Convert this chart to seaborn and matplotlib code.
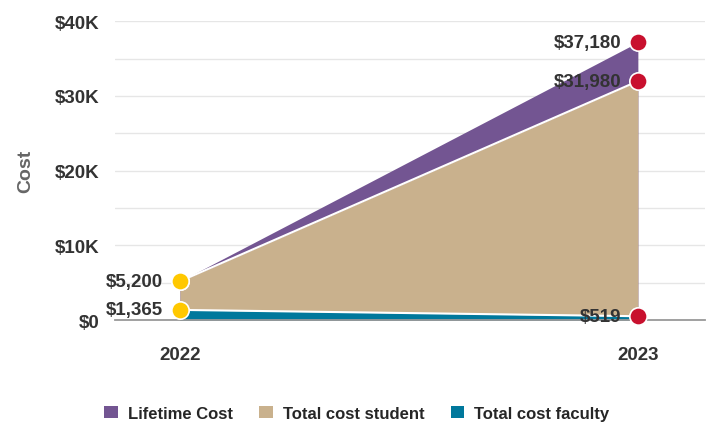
import matplotlib
matplotlib.use("Agg")
import matplotlib.pyplot as plt
import seaborn as sns
import pandas as pd
from matplotlib.patches import Patch
from matplotlib import font_manager

years = [2022, 2023]
lifetime_cost = [5200, 37180]
student_cost = [5200, 31980]
faculty_cost = [1365, 519]
series_names = ["Lifetime Cost", "Total cost student", "Total cost faculty"]
colors = ["#735592", "#C9B18D", "#00789C"]
y_tick_labels = ["$0", "", "$10K", "", "$20K", "", "$30K", "", "$40K"]

sns.set_theme(style="white")
avail = {f.name for f in font_manager.fontManager.ttflist}
fam = [f for f in ["Liberation Sans Narrow", "Liberation Sans", "DejaVu Sans"] if f in avail]
plt.rcParams["font.family"] = fam

df = pd.DataFrame({"year": years * 3,
                   "value": lifetime_cost + student_cost + faculty_cost,
                   "series": sum([[n] * 2 for n in series_names], [])})

fig = plt.figure(figsize=(7.14, 4.27), dpi=100)
ax = fig.add_axes([0.161, 0.248, 0.826, 0.70])

for i, (name, vals) in enumerate(zip(series_names, [lifetime_cost, student_cost, faculty_cost])):
    ax.fill_between(years, 0, vals, color=colors[i], lw=0, zorder=2 + i)
sub = df[df.series != "Lifetime Cost"]
sns.lineplot(data=sub, x="year", y="value", units="series", estimator=None,
             color="white", lw=1.5, ax=ax, zorder=5, legend=False)

ax.set_xlim(2022 - 0.142, 2023 + 0.146)
ax.set_ylim(0, 40000)
ax.set_yticks(range(0, 40001, 5000))
ax.set_yticklabels(y_tick_labels, fontsize=13.5, fontweight="bold", color="#333333")
ax.set_xticks(years)
ax.set_xticklabels([str(y) for y in years], fontsize=13.5, fontweight="bold", color="#333333")
ax.tick_params(axis="y", length=0, pad=11)
ax.tick_params(axis="x", length=0, pad=19)
ax.grid(axis="y", color="#e6e6e6", lw=1, zorder=0)
for s in ["top", "right", "left"]:
    ax.spines[s].set_visible(False)
ax.spines["bottom"].set_color("#999999")
ax.spines["bottom"].set_linewidth(1.3)
ax.spines["bottom"].set_zorder(6)
ax.set_xlabel("")
ax.set_ylabel("Cost", fontsize=14, fontweight="bold", color="#666666", labelpad=15)

for vals in [lifetime_cost, student_cost, faculty_cost]:
    for j, (x, v) in enumerate(zip(years, vals)):
        mc = "#FFC800" if j == 0 else "#C8102E"
        ax.plot([x], [v], marker="o", ms=12.5, mfc=mc, mec="white", mew=1.2,
                zorder=8, clip_on=False)
labels_done = set()
for vals in [lifetime_cost, student_cost, faculty_cost]:
    for x, v in zip(years, vals):
        if (x, v) in labels_done:
            continue
        labels_done.add((x, v))
        ax.annotate(f"${v:,}", (x, v), xytext=(-12, 0), textcoords="offset points",
                    ha="right", va="center", fontsize=13.5, fontweight="bold",
                    color="#333333", zorder=9)

handles = [Patch(facecolor=c, edgecolor="none") for c in colors]
fig.legend(handles, series_names, loc="center", bbox_to_anchor=(0.5, 0.03), ncol=3,
           frameon=False, handlelength=0.8, handleheight=0.8,
           handletextpad=0.6, columnspacing=1.6, prop={"weight": "bold", "size": 12})

fig.savefig("out.png", dpi=100)
